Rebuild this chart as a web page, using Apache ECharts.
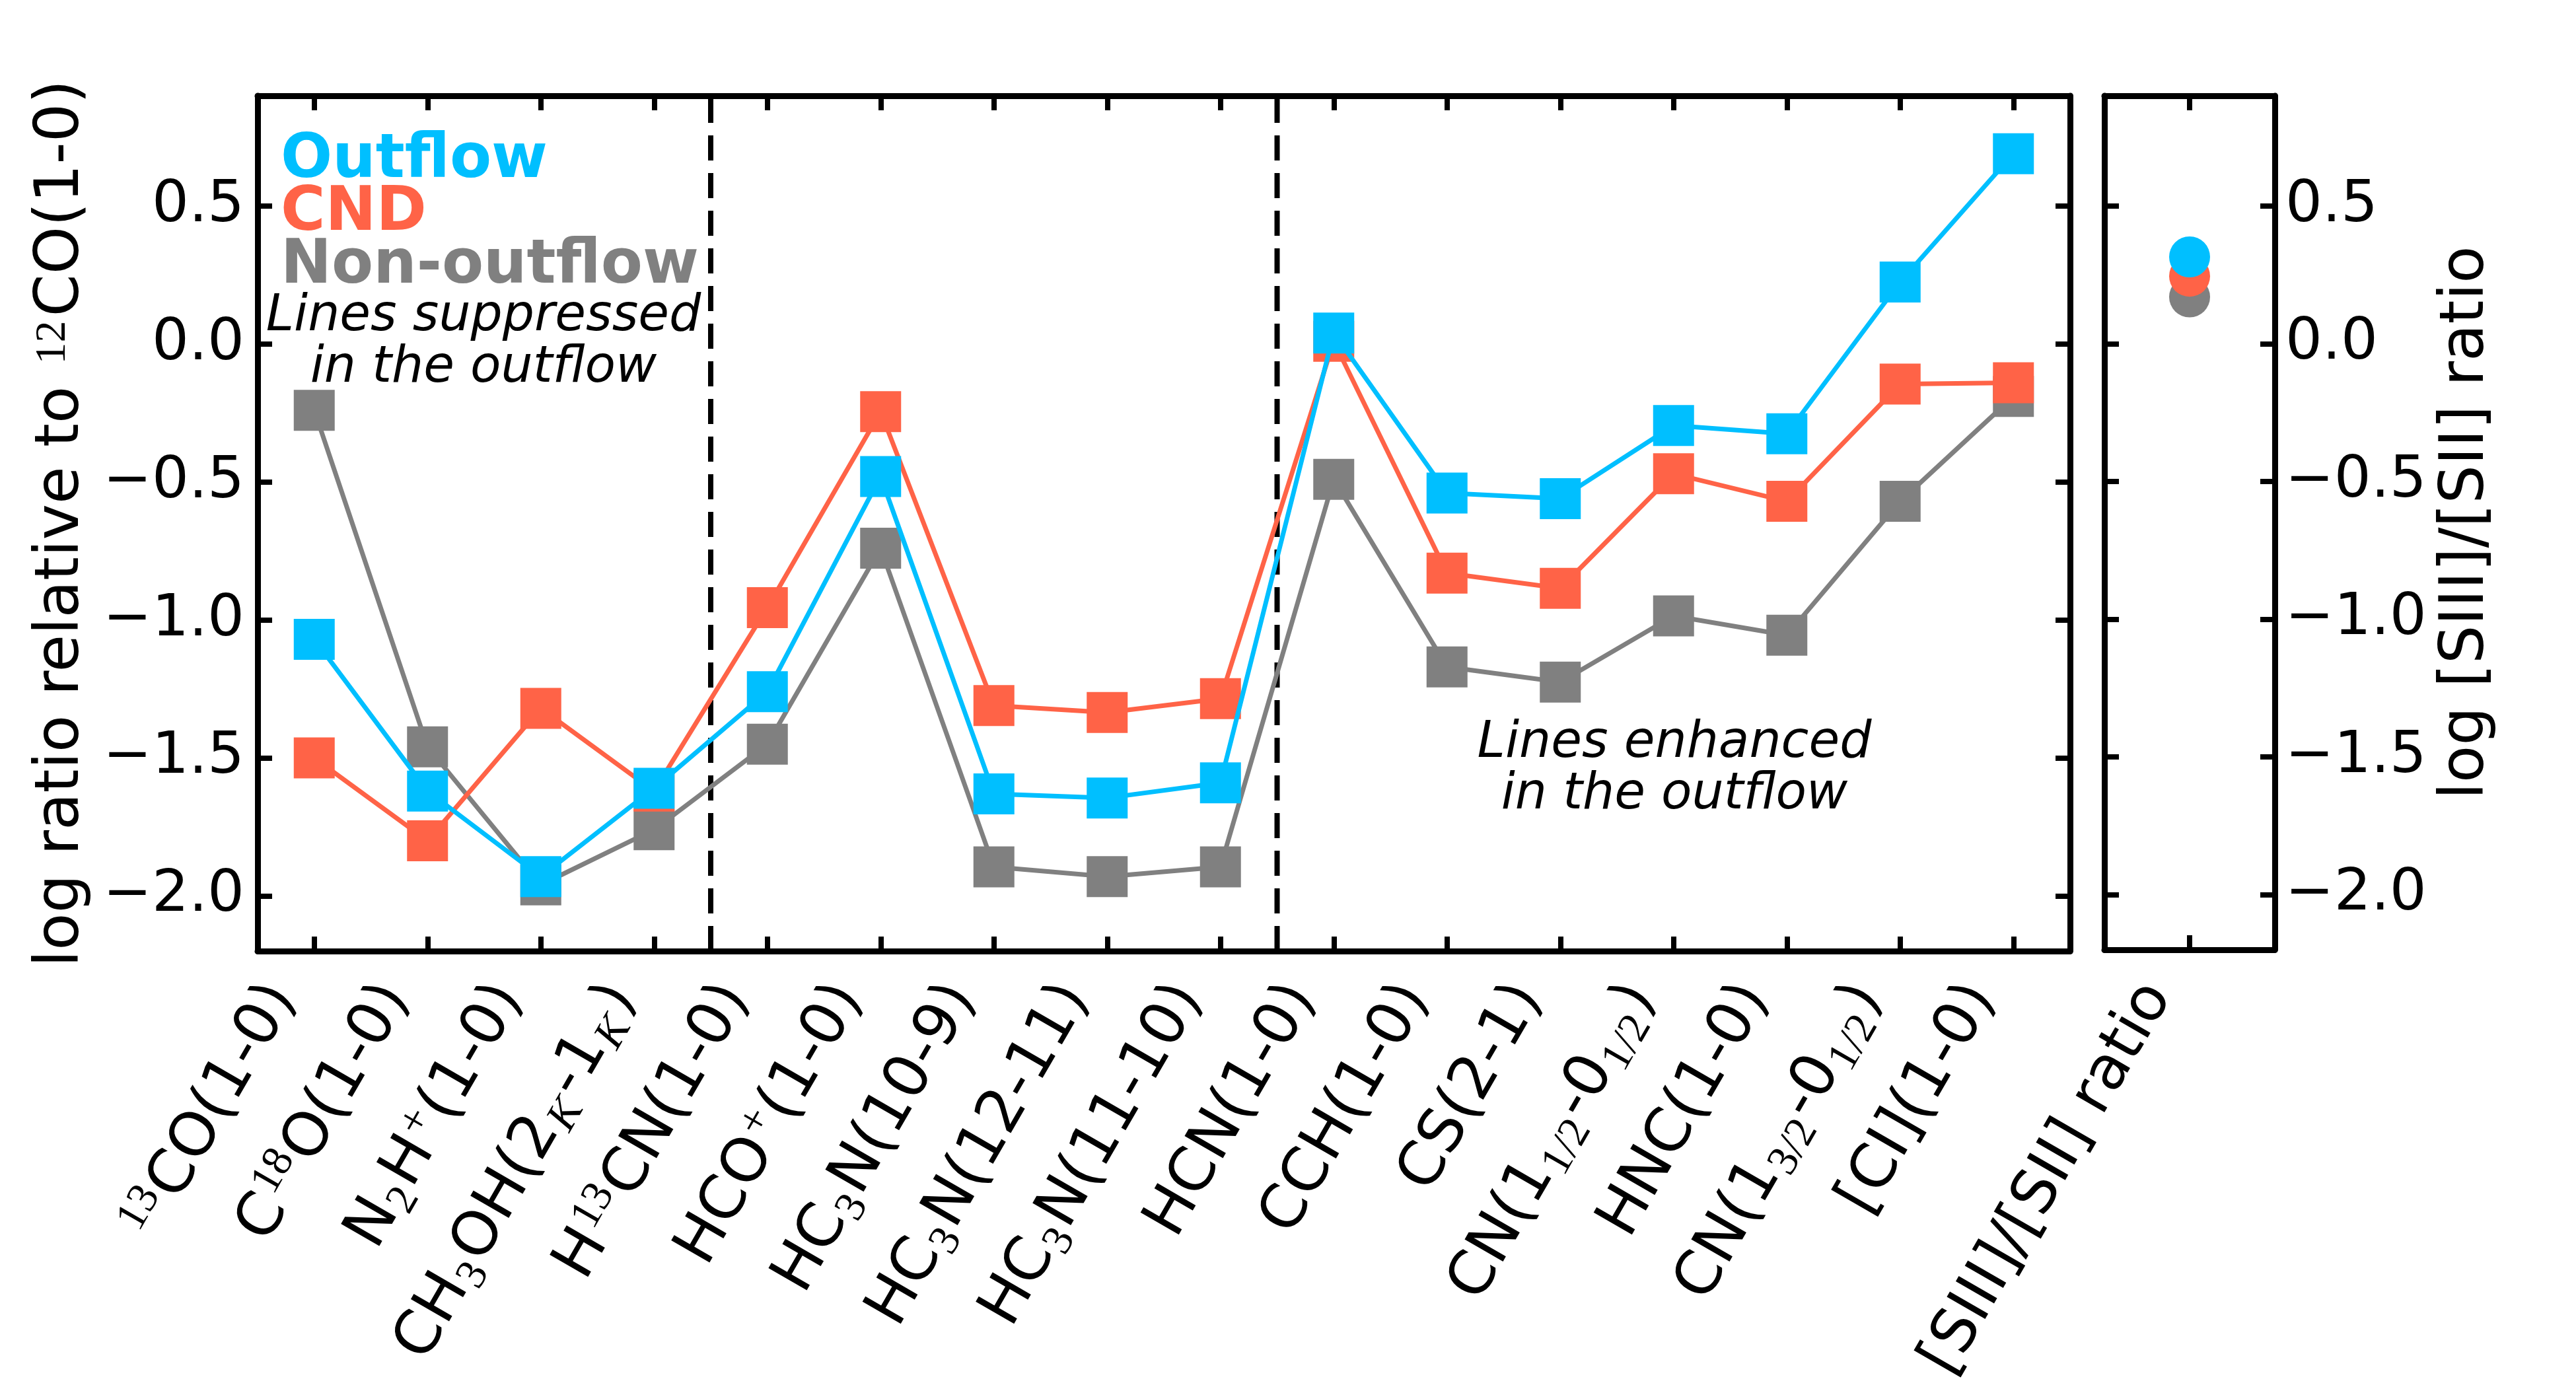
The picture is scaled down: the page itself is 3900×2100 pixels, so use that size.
<!DOCTYPE html>
<html lang="en">

<head>
    <meta charset="UTF-8">
    <title>log ratio relative to 12CO(1-0)</title>
    <style>
        * {
            margin: 0;
            padding: 0;
        }

        html,
        body,
        #chart {
            width: 100%;
            height: 100%;
            overflow: hidden;
            background: #fff;
        }
    </style>
</head>

<body>
    <div id="chart"></div>
    <script src="https://cdn.jsdelivr.net/npm/echarts@6/dist/echarts.min.js"></script>
    <script>
        // molecular lines (x categories)
        let categories = ['13CO(1-0)', 'C18O(1-0)', 'N2H+(1-0)', 'CH3OH(2K-1K)', 'H13CN(1-0)', 'HCO+(1-0)',
            'HC3N(10-9)', 'HC3N(12-11)', 'HC3N(11-10)', 'HCN(1-0)', 'CCH(1-0)', 'CS(2-1)',
            'CN(1_1/2-0_1/2)', 'HNC(1-0)', 'CN(1_3/2-0_1/2)', '[CI](1-0)'
        ];
        // same labels with sub/superscripts as rich text
        let categoryLabels = [
            '{sup|13}{b|CO(1-0)}', '{b|C}{sup|18}{b|O(1-0)}', '{b|N}{sub|2}{b|H}{sup|+}{b|(1-0)}',
            '{b|CH}{sub|3}{b|OH(2}{subi|K}{b|-1}{subi|K}{b|)}', '{b|H}{sup|13}{b|CN(1-0)}', '{b|HCO}{sup|+}{b|(1-0)}',
            '{b|HC}{sub|3}{b|N(10-9)}', '{b|HC}{sub|3}{b|N(12-11)}', '{b|HC}{sub|3}{b|N(11-10)}',
            '{b|HCN(1-0)}', '{b|CCH(1-0)}', '{b|CS(2-1)}', '{b|CN(1}{sub|1/2}{b|-0}{sub|1/2}{b|)}',
            '{b|HNC(1-0)}', '{b|CN(1}{sub|3/2}{b|-0}{sub|1/2}{b|)}', '{b|[CI](1-0)}'
        ];
        let outflow = [-1.07, -1.62, -1.93, -1.61, -1.26, -0.48, -1.63, -1.645, -1.59, 0.04,
            -0.54, -0.56, -0.295, -0.325, 0.225, 0.69
        ];
        let cnd = [-1.50, -1.80, -1.32, -1.62, -0.955, -0.245, -1.31, -1.335, -1.285, 0.01,
            -0.83, -0.885, -0.47, -0.57, -0.145, -0.14
        ];
        let nonOutflow = [-0.24, -1.46, -1.96, -1.76, -1.45, -0.74, -1.895, -1.93, -1.895, -0.49,
            -1.17, -1.225, -0.985, -1.055, -0.57, -0.19
        ];

        // side panel: [SIII]/[SII]
        let ratioCategory = ['[SIII]/[SII] ratio'];
        let ratioOutflow = [0.315];
        let ratioCnd = [0.245];
        let ratioNonOutflow = [0.17];

        let yTicks = [-2.0, -1.5, -1.0, -0.5, 0.0, 0.5];
        let yMin = -2.2;
        let yMax = 0.9;
        let dividers = [3.5, 8.5]; // between categories

        let blue = '#00BFFF';
        let red = '#FF6347';
        let gray = '#808080';
        let font = 'DejaVu Sans';

        let labelRich = {
            b: { fontSize: 92, fontFamily: font, lineHeight: 110, color: '#000' },
            sup: { fontSize: 66, fontFamily: 'Liberation Serif', lineHeight: 66, verticalAlign: 'top', color: '#000', padding: [0, 4, 0, 4] },
            sub: { fontSize: 66, fontFamily: 'Liberation Serif', lineHeight: 66, verticalAlign: 'bottom', color: '#000', padding: [0, 4, 0, 2] },
            subi: { fontSize: 66, fontFamily: 'Liberation Serif', fontStyle: 'italic', lineHeight: 66, verticalAlign: 'bottom', color: '#000', padding: [0, 6, 0, 2] }
        };

        function fmtTick(v) {
            return v.toFixed(1).replace('-', '\u2212');
        }

        let axisLine = { show: true, onZero: false, lineStyle: { color: '#000', width: 9 } };
        let tickIn = { show: true, inside: true, length: 22, lineStyle: { color: '#000', width: 8 } };

        let xLabel = {
            rotate: 60,
            align: 'right',
            verticalAlign: 'bottom',
            margin: 85,
            rich: labelRich
        };

        let option = {
            animation: false,
            backgroundColor: '#fff',
            grid: [
                { left: 390, top: 145, width: 2744, height: 1295 },
                { left: 3186, top: 145, width: 258, height: 1295 }
            ],
            legend: {
                data: [
                    { name: 'Outflow', textStyle: { color: blue } },
                    { name: 'CND', textStyle: { color: red } },
                    { name: 'Non-outflow', textStyle: { color: gray } }
                ],
                orient: 'vertical',
                left: 420,
                top: 198,
                padding: 0,
                itemGap: -12,
                itemWidth: 0,
                itemHeight: 0,
                icon: 'rect',
                selectedMode: false,
                textStyle: { fontSize: 92, fontWeight: 'bold', fontFamily: font, lineHeight: 79 }
            },
            xAxis: [{
                type: 'category',
                gridIndex: 0,
                position: 'bottom',
                data: categories,
                axisLine: axisLine,
                axisTick: Object.assign({ alignWithLabel: true }, tickIn),
                axisLabel: Object.assign({
                    interval: 0,
                    formatter: function(v, i) {
                        return categoryLabels[i];
                    }
                }, xLabel),
                splitLine: { show: false }
            }, {
                type: 'category',
                gridIndex: 0,
                position: 'top',
                data: categories,
                axisLine: axisLine,
                axisTick: Object.assign({ alignWithLabel: true }, tickIn),
                axisLabel: { show: false }
            }, {
                type: 'value',
                gridIndex: 0,
                min: -0.5,
                max: categories.length - 0.5,
                show: false
            }, {
                type: 'category',
                gridIndex: 1,
                position: 'bottom',
                data: ratioCategory,
                axisLine: axisLine,
                axisTick: Object.assign({ alignWithLabel: true }, tickIn),
                axisLabel: Object.assign({
                    interval: 0,
                    formatter: function(v) {
                        return '{b|' + v + '}';
                    }
                }, xLabel)
            }, {
                type: 'category',
                gridIndex: 1,
                position: 'top',
                data: ratioCategory,
                axisLine: axisLine,
                axisTick: Object.assign({ alignWithLabel: true }, tickIn),
                axisLabel: { show: false }
            }],
            yAxis: [{
                type: 'value',
                gridIndex: 0,
                position: 'left',
                min: yMin,
                max: yMax,
                axisLine: axisLine,
                axisTick: Object.assign({ customValues: yTicks }, tickIn),
                axisLabel: {
                    customValues: yTicks,
                    formatter: fmtTick,
                    fontSize: 88,
                    fontFamily: font,
                    color: '#000',
                    margin: 20
                },
                splitLine: { show: false },
                name: 'log ratio relative to {sup|12}CO(1-0)',
                nameLocation: 'middle',
                nameRotate: 90,
                nameGap: 250,
                nameTextStyle: {
                    fontSize: 92,
                    fontFamily: font,
                    color: '#000',
                    rich: {
                        sup: { fontSize: 66, fontFamily: 'Liberation Serif', verticalAlign: 'top', lineHeight: 66, padding: [0, 6, 0, 4] }
                    }
                }
            }, {
                type: 'value',
                gridIndex: 0,
                position: 'right',
                min: yMin,
                max: yMax,
                axisLine: axisLine,
                axisTick: Object.assign({ customValues: yTicks }, tickIn),
                axisLabel: { show: false },
                splitLine: { show: false }
            }, {
                type: 'value',
                gridIndex: 1,
                position: 'left',
                min: yMin,
                max: yMax,
                axisLine: axisLine,
                axisTick: Object.assign({ customValues: yTicks }, tickIn),
                axisLabel: { show: false },
                splitLine: { show: false }
            }, {
                type: 'value',
                gridIndex: 1,
                position: 'right',
                min: yMin,
                max: yMax,
                axisLine: axisLine,
                axisTick: Object.assign({ customValues: yTicks }, tickIn),
                axisLabel: {
                    customValues: yTicks,
                    formatter: fmtTick,
                    fontSize: 88,
                    fontFamily: font,
                    color: '#000',
                    margin: 16
                },
                splitLine: { show: false },
                name: 'log [SIII]/[SII] ratio',
                nameLocation: 'middle',
                nameRotate: 90,
                nameGap: 245,
                nameTextStyle: { fontSize: 92, fontFamily: font, color: '#000' }
            }],
            graphic: [{
                type: 'text',
                style: {
                    text: 'Lines suppressed\nin the outflow',
                    x: 732,
                    y: 441,
                    align: 'center',
                    verticalAlign: 'top',
                    font: 'italic 76px "DejaVu Sans"',
                    lineHeight: 78,
                    fill: '#000'
                }
            }, {
                type: 'text',
                style: {
                    text: 'Lines enhanced\nin the outflow',
                    x: 2535,
                    y: 1087,
                    align: 'center',
                    verticalAlign: 'top',
                    font: 'italic 76px "DejaVu Sans"',
                    lineHeight: 78,
                    fill: '#000'
                }
            }],
            series: []
        };

        // dashed dividers
        dividers.forEach(function(d) {
            option.series.push({
                type: 'line',
                xAxisIndex: 2,
                yAxisIndex: 0,
                data: [
                    [d, yMin],
                    [d, yMax]
                ],
                symbol: 'none',
                silent: true,
                lineStyle: { color: '#000', width: 8, type: [38, 19] },
                z: 1
            });
        });

        // gray first, then red, blue on top
        [
            ['Non-outflow', nonOutflow, ratioNonOutflow, gray],
            ['CND', cnd, ratioCnd, red],
            ['Outflow', outflow, ratioOutflow, blue]
        ].forEach(function(s, k) {
            option.series.push({
                name: s[0],
                type: 'line',
                xAxisIndex: 0,
                yAxisIndex: 0,
                data: s[1],
                symbol: 'rect',
                symbolSize: 62,
                itemStyle: { color: s[3], opacity: 1 },
                lineStyle: { color: s[3], width: 7 },
                z: 2 + k
            });
            option.series.push({
                name: s[0],
                type: 'scatter',
                xAxisIndex: 3,
                yAxisIndex: 2,
                data: s[2],
                symbol: 'circle',
                symbolSize: 62,
                itemStyle: { color: s[3], opacity: 1 },
                z: 2 + k
            });
        });

        let myChart = echarts.init(document.getElementById('chart'));
        myChart.setOption(option, true);
    </script>
</body>

</html>
